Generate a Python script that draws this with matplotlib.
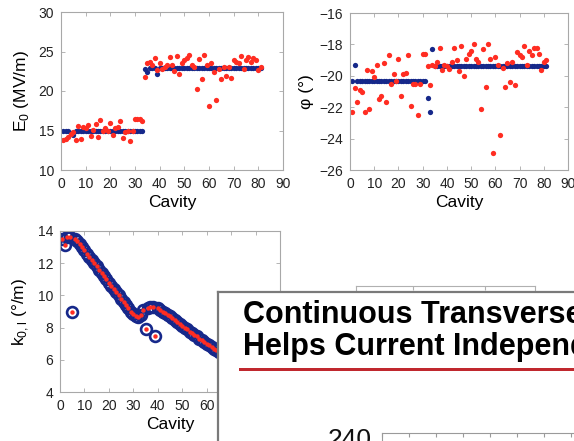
import numpy as np
import matplotlib
matplotlib.use('Agg')
import matplotlib.pyplot as plt
from matplotlib.patches import Rectangle

plt.rcParams['font.family'] = ['Liberation Sans', 'DejaVu Sans']
plt.rcParams['mathtext.fontset'] = 'custom'
plt.rcParams['mathtext.rm'] = 'Liberation Sans'

# cavity index 1..81
cavity = np.arange(1, 82)

# accelerating field E0 (MV/m): design (blue) and measured (red)
e0_design = [15.0, 15.0, 15.0, 14.7, 14.4, 15.0, 15.0, 15.0, 15.0, 15.0,
             15.0, 15.0, 15.0, 15.0, 15.0, 15.0, 15.0, 15.0, 15.0, 15.0,
             15.0, 15.0, 15.0, 15.0, 15.0, 15.0, 15.0, 15.0, 15.0, 15.0,
             15.0, 15.0, 15.0,
             22.8, 22.4, 22.9, 22.9, 22.9, 22.2, 22.9, 22.9, 22.9, 22.9,
             22.9, 22.9, 22.9, 22.9, 22.9, 22.9, 22.9, 22.9, 22.9, 22.9,
             22.9, 22.9, 22.9, 22.9, 22.9, 22.9, 22.9, 22.9, 22.9, 22.9,
             22.9, 22.9, 22.9, 22.9, 22.9, 22.9, 22.9, 22.9, 22.9, 22.9,
             22.9, 22.9, 22.9, 22.9, 22.9, 22.9, 22.9, 22.9]
e0_meas = [13.8, 13.9, 14.2, 14.5, 14.8, 13.8, 15.6, 13.9, 15.5, 15.3,
           15.7, 14.3, 15.1, 15.8, 14.2, 16.3, 14.9, 15.3, 15.0, 15.9,
           14.4, 15.3, 15.5, 16.2, 14.0, 14.8, 14.9, 13.7, 14.9, 16.4,
           16.4, 16.4, 16.2,
           21.8, 23.5, 23.7, 23.3, 24.2, 22.6, 23.6, 22.8, 23.1, 23.3,
           24.3, 23.3, 22.5, 24.4, 22.1, 23.6, 23.9, 24.2, 24.5, 23.3,
           23.1, 20.2, 24.1, 21.5, 24.5, 23.3, 18.1, 23.6, 22.4, 18.9,
           22.8, 21.5, 23.1, 21.9, 23.1, 21.6, 23.9, 23.7, 23.6, 24.4,
           22.8, 23.9, 24.3, 23.7, 24.2, 23.9, 22.6, 23.1]

# synchronous phase (deg)
phi_design = [-20.3, -19.3, -20.3, -20.3, -20.3, -20.3, -20.3, -20.3, -20.3, -20.3,
              -20.3, -20.3, -20.3, -20.3, -20.3, -20.3, -20.3, -20.3, -20.3, -20.3,
              -20.3, -20.3, -20.3, -20.3, -20.3, -20.3, -20.3, -20.3, -20.3, -20.3,
              -20.3, -21.4, -22.3, -18.3,
              -19.35, -19.35, -19.35, -19.35, -19.35, -19.35, -19.35, -19.35, -19.35, -19.35,
              -19.35, -19.35, -19.35, -19.35, -19.35, -19.35, -19.35, -19.35, -19.35, -19.35,
              -19.35, -19.35, -19.35, -19.35, -19.35, -19.35, -19.35, -19.35, -19.35, -19.35,
              -19.35, -19.35, -19.35, -19.35, -19.35, -19.35, -19.35, -19.35, -19.35, -19.35,
              -19.35, -19.35, -19.35, -19.35, -19.35, -19.35, -19.35]
phi_meas = [-22.3, -20.8, -21.7, -20.9, -21.0, -22.3, -19.6, -22.1, -19.7, -20.1,
            -19.3, -21.5, -21.3, -19.2, -21.7, -18.7, -20.5, -19.9, -20.3, -18.9,
            -21.3, -19.9, -19.8, -18.7, -21.9, -20.5, -20.5, -22.5, -20.5, -18.6,
            -18.6, -19.4, -20.6,
            -19.3, -19.4, -19.1, -18.2, -19.6, -19.3, -19.4, -19.55, -19.1, -18.2,
            -19.0, -19.7, -18.1, -20.0, -18.9, -18.6, -18.4, -18.0, -18.9, -19.1,
            -22.1, -18.3, -20.7, -18.0, -18.9, -24.9, -18.8, -19.3, -23.8, -19.5,
            -20.7, -19.2, -20.4, -19.1, -20.6, -18.5, -18.7, -18.8, -18.1, -19.3,
            -18.4, -18.7, -18.2, -18.2, -18.6, -19.6, -19.1, -19.0]

# phase advance k0 (deg/m)
k0 = [13.5, 13.1, 13.6, 13.6, 9.0, 13.5, 13.35, 13.2, 13.0, 12.8,
      12.6, 12.4, 12.2, 12.0, 11.8, 11.6, 11.4, 11.2, 11.0, 10.8,
      10.6, 10.4, 10.2, 10.0, 9.8, 9.6, 9.4, 9.2, 9.0, 8.85,
      8.7, 8.65, 8.8, 9.1, 7.9, 9.2, 9.25, 9.25, 7.5, 9.2,
      9.1, 9.0, 8.9, 8.8, 8.7, 8.6, 8.45, 8.35, 8.25, 8.1,
      8.0, 7.9, 7.75, 7.65, 7.55, 7.45, 7.3, 7.2, 7.1, 7.0,
      6.9, 6.8, 6.7, 6.6, 6.5, 6.4, 6.3, 6.2, 6.1, 6.0,
      5.9, 5.8, 5.7, 5.6, 5.5, 5.4, 5.3, 5.2, 5.1, 5.0, 4.9]

BLUE = '#16288a'
RED = '#ff2d22'
GREY = '#a8a8a8'

W, H = 574, 441
fig = plt.figure(figsize=(W / 100, H / 100), dpi=100)
fig.patch.set_facecolor('white')


def add_px(x0, y0, x1, y1, **kw):
    # axes placed by pixel box (left, top, right, bottom)
    return fig.add_axes([x0 / W, 1 - y1 / H, (x1 - x0) / W, (y1 - y0) / H], **kw)


def matlab_look(ax):
    for s in ax.spines.values():
        s.set_color(GREY)
        s.set_linewidth(0.8)
    ax.tick_params(direction='in', length=3, width=0.6, color=GREY,
                   top=True, right=True, labelsize=10, labelcolor='#222222', pad=5)
    ax.set_xlim(0, 90)
    ax.set_xticks(range(0, 91, 10))


# --- E0 ---
ax1 = add_px(61, 12, 283, 170, zorder=1)
ax1.plot(cavity, e0_design, 'o', color=BLUE, ms=3.8, mew=0)
ax1.plot(cavity, e0_meas, 'o', color=RED, ms=3.8, mew=0)
matlab_look(ax1)
ax1.set_ylim(10, 30)
ax1.set_yticks(range(10, 31, 5))
ax1.set_xlabel('Cavity', fontsize=12.5, labelpad=3)
ax1.set_ylabel(r'E$_0$ (MV/m)', fontsize=12.5, labelpad=5)

# --- phase ---
ax2 = add_px(350, 13, 568, 170, zorder=1)
ax2.plot(cavity, phi_design, 'o', color=BLUE, ms=3.8, mew=0)
ax2.plot(cavity, phi_meas, 'o', color=RED, ms=3.8, mew=0)
matlab_look(ax2)
ax2.set_ylim(-26, -16)
ax2.set_yticks(range(-26, -15, 2))
ax2.set_xlabel('Cavity', fontsize=12.5, labelpad=3)
ax2.set_ylabel('φ (°)', fontsize=12.5, labelpad=4)

# --- k0 ---
ax3 = add_px(60, 231, 280, 392, zorder=1)
ax3.plot(cavity, k0, 'o', ms=7.8, mfc='none', mec=BLUE, mew=1.9)
ax3.plot(cavity, k0, 'o', color=RED, ms=3.2, mew=0)
matlab_look(ax3)
ax3.set_ylim(4, 14)
ax3.set_yticks(range(4, 15, 2))
ax3.set_xlabel('Cavity', fontsize=12.5, labelpad=3)
ax3.set_ylabel(r'k$_\mathrm{0,l}$ (°/m)', fontsize=12.5, labelpad=5)

# --- panel hidden behind the slide ---
axb = add_px(356, 286, 535, 700, zorder=2)
for s in axb.spines.values():
    s.set_color('#b0b0b0')
    s.set_linewidth(0.8)
axb.set_xlim(0, 179)
axb.set_xticks([57, 129])
axb.set_yticks([])
axb.tick_params(direction='in', length=3, color='#b0b0b0', top=True, bottom=False,
                labeltop=False, labelbottom=False)

# --- overlaid slide ---
axs = add_px(218, 292, 800, 700, zorder=3)
axs.set_facecolor('white')
axs.set_xticks([])
axs.set_yticks([])
for s in axs.spines.values():
    s.set_color('#7a7a7a')
    s.set_linewidth(1.6)

fig.text(243 / W, 1 - 323 / H, 'Continuous Transverse', fontsize=22,
         weight='bold', color='black', zorder=10)
fig.text(243 / W, 1 - 355 / H, 'Helps Current Independ', fontsize=22,
         weight='bold', color='black', zorder=10)
fig.add_artist(Rectangle((239 / W, 1 - 371 / H), 1, 3 / H, transform=fig.transFigure,
                         facecolor='#c0282e', edgecolor='none', zorder=10))
fig.text(372 / W, 1 - 447 / H, '240', fontsize=19, ha='right', va='baseline',
         color='#111111', zorder=10)

axi = add_px(382, 433, 800, 700, zorder=4)
for s in axi.spines.values():
    s.set_color('#9a9a9a')
    s.set_linewidth(0.8)
axi.set_xlim(0, 418 / 27)
axi.set_xticks(range(0, 16))
axi.set_yticks([])
axi.tick_params(direction='in', length=3, color='#9a9a9a', top=True, bottom=False,
                labeltop=False, labelbottom=False)

fig.savefig('out.png', dpi=100)
